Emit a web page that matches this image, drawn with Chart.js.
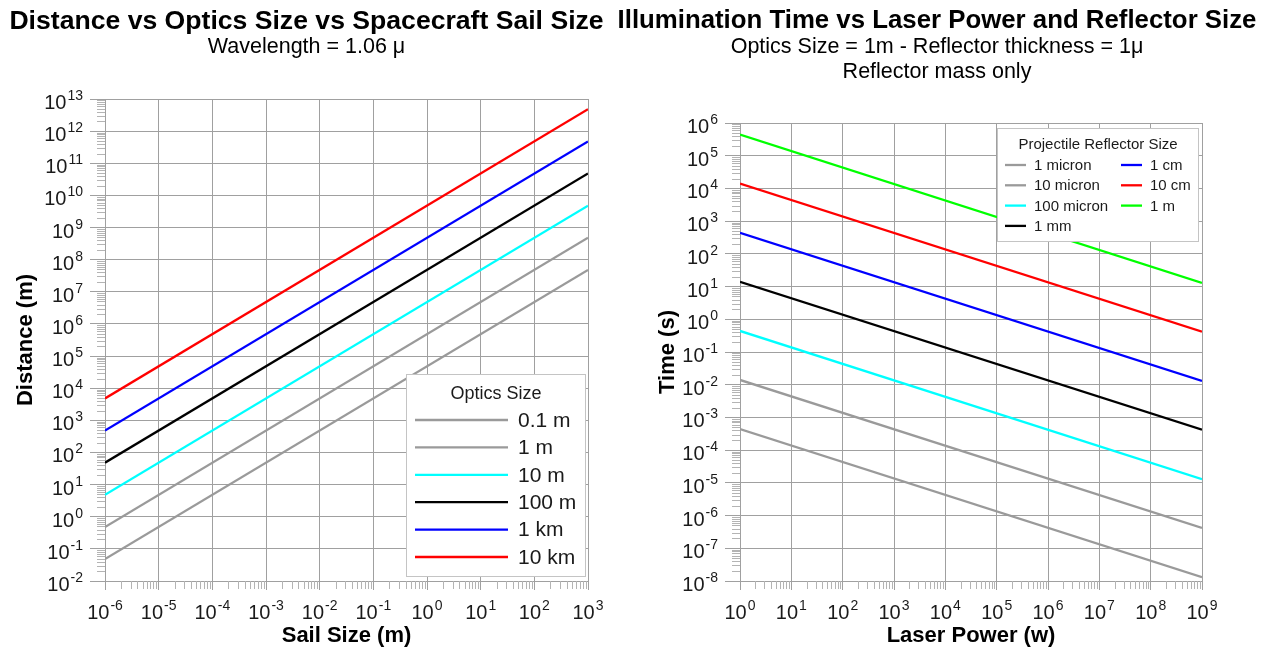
<!DOCTYPE html>
<html>
<head>
<meta charset="utf-8">
<script src="https://cdn.jsdelivr.net/npm/chart.js@4.4.0/dist/chart.umd.min.js"></script>
<style>
  body { margin: 0; background: #fff; }
  #wrap { position: relative; width: 1261px; height: 650px; }
  canvas { position: absolute; top: 0; }
  #left { left: 0; }
  #right { left: 613px; }
</style>
</head>
<body>
<div id="wrap">
  <canvas id="left" width="613" height="650"></canvas>
  <canvas id="right" width="648" height="650"></canvas>
</div>
<script>
const FONT = "'Liberation Sans', Arial, sans-serif";
Chart.defaults.font.family = FONT;

/** ---------------- Left chart data: distance vs sail size ---------------- **/
const sailSize = [1e-6, 1e3];
const optics01m = [4.8e-2, 4.8e7];
const optics1m = [4.8e-1, 4.8e8];
const optics10m = [4.8, 4.8e9];
const optics100m = [4.8e1, 4.8e10];
const optics1km = [4.8e2, 4.8e11];
const optics10km = [4.8e3, 4.8e12];
const opticsLabels = ['0.1 m', '1 m', '10 m', '100 m', '1 km', '10 km'];
const opticsColors = ['#9a9a9a', '#9a9a9a', '#00ffff', '#000000', '#0000ff', '#ff0000'];
const sailExp = [-6, -5, -4, -3, -2, -1, 0, 1, 2, 3];
const distExp = [-2, -1, 0, 1, 2, 3, 4, 5, 6, 7, 8, 9, 10, 11, 12, 13];

/** ---------------- Right chart data: illumination time vs laser power ---------------- **/
const laserPower = [1, 1e9];
const refl1um = [4.4e-4, 1.3e-8];
const refl10um = [1.4e-2, 4.2e-7];
const refl100um = [4.4e-1, 1.3e-5];
const refl1mm = [1.4e1, 4.2e-4];
const refl1cm = [4.4e2, 1.3e-2];
const refl10cm = [1.4e4, 4.2e-1];
const refl1m = [4.4e5, 1.3e1];
const reflLabels = ['1 micron', '10 micron', '100 micron', '1 mm', '1 cm', '10 cm', '1 m'];
const reflColors = ['#9a9a9a', '#9a9a9a', '#00ffff', '#000000', '#0000ff', '#ff0000', '#00ff00'];
const powerExp = [0, 1, 2, 3, 4, 5, 6, 7, 8, 9];
const timeExp = [-8, -7, -6, -5, -4, -3, -2, -1, 0, 1, 2, 3, 4, 5, 6];

const GRID = '#a0a0a0';

/** ---------------- "10^n" tick labels + minor ticks ---------------- **/
function drawPow(ctx, x, y, exp, align) {
  const base = '10', sup = String(exp);
  ctx.font = '20px ' + FONT;
  const wb = ctx.measureText(base).width;
  ctx.font = '14px ' + FONT;
  const ws = ctx.measureText(sup).width + 1;
  const x0 = align === 'right' ? x - wb - ws : x - (wb + ws) / 2;
  ctx.fillStyle = '#1a1a1a';
  ctx.textAlign = 'left';
  ctx.textBaseline = 'alphabetic';
  ctx.font = '20px ' + FONT;
  ctx.fillText(base, x0, y);
  ctx.font = '14px ' + FONT;
  ctx.fillText(sup, x0 + wb + 1, y - 9);
}

const logAxes = {
  id: 'logAxes',
  afterDraw(chart, args, o) {
    const { ctx, chartArea: ca } = chart;
    const x = chart.scales.x, y = chart.scales.y;
    ctx.save();
    ctx.strokeStyle = '#b4b4b4';
    ctx.lineWidth = 1;
    ctx.beginPath();
    for (let i = 0; i < o.yExp.length - 1; i++) {
      for (let m = 2; m < 10; m++) {
        const py = Math.round(y.getPixelForValue(m * 10 ** o.yExp[i])) + 0.5;
        ctx.moveTo(ca.left - 8, py);
        ctx.lineTo(ca.left, py);
      }
    }
    for (let i = 0; i < o.xExp.length - 1; i++) {
      for (let m = 2; m < 10; m++) {
        const px = Math.round(x.getPixelForValue(m * 10 ** o.xExp[i])) + 0.5;
        ctx.moveTo(px, ca.bottom);
        ctx.lineTo(px, ca.bottom + 8);
      }
    }
    ctx.stroke();
    o.yExp.forEach(e => drawPow(ctx, ca.left - 22, y.getPixelForValue(10 ** e) + 10, e, 'right'));
    o.xExp.forEach(e => drawPow(ctx, x.getPixelForValue(10 ** e), ca.bottom + 38, e, 'center'));
    ctx.restore();
  }
};

/** ---------------- Boxed legend inside the plot ---------------- **/
const boxLegend = {
  id: 'boxLegend',
  afterDatasetsDraw(chart, args, o) {
    const { ctx, chartArea: ca } = chart;
    const left = ca.right - o.right - o.width;
    const top = o.top != null ? ca.top + o.top : ca.bottom - o.bottom - o.height;
    ctx.save();
    ctx.fillStyle = '#fff';
    ctx.fillRect(left, top, o.width, o.height);
    ctx.strokeStyle = '#c4c4c4';
    ctx.lineWidth = 1;
    ctx.strokeRect(Math.round(left) + 0.5, Math.round(top) + 0.5, o.width - 1, o.height - 1);
    ctx.fillStyle = '#1a1a1a';
    ctx.textBaseline = 'middle';
    ctx.textAlign = 'center';
    ctx.font = o.titleFont;
    ctx.fillText(o.title, left + o.width / 2, top + o.titleY);
    ctx.textAlign = 'left';
    ctx.font = o.itemFont;
    chart.data.datasets.forEach((ds, i) => {
      const col = Math.floor(i / o.rows), row = i % o.rows;
      const cx = left + o.colX[col], cy = top + o.rowY + row * o.rowStep;
      ctx.strokeStyle = ds.borderColor;
      ctx.lineWidth = ds.borderWidth;
      ctx.beginPath();
      ctx.moveTo(cx, cy);
      ctx.lineTo(cx + o.lineLen, cy);
      ctx.stroke();
      ctx.fillText(ds.label, cx + o.lineLen + o.gap, cy + 1);
    });
    ctx.restore();
  }
};

function logAxis(exps, fitFn, tickLength, title, titlePad) {
  return {
    type: 'logarithmic',
    min: 10 ** exps[0],
    max: 10 ** exps[exps.length - 1],
    afterBuildTicks: a => { a.ticks = exps.map(e => ({ value: 10 ** e })); },
    afterFit: fitFn,
    ticks: { display: false },
    grid: { color: GRID, tickColor: GRID, lineWidth: 1, tickLength: tickLength },
    border: { display: true, color: GRID },
    title: { display: true, text: title, color: '#000', font: { size: 22, weight: 'bold' }, padding: titlePad }
  };
}

// empty right-hand axis, only reserves space so the titles stay centred on the canvas
function spacer(w) {
  return {
    type: 'linear', position: 'right', display: true,
    afterFit: s => { s.width = w; },
    ticks: { display: false }, grid: { display: false }, border: { display: false }
  };
}

function makeChart(id, xs, series, labels, colors, opt) {
  return new Chart(document.getElementById(id), {
    type: 'line',
    data: {
      datasets: series.map((s, i) => ({
        label: labels[i],
        data: s.map((v, j) => ({ x: xs[j], y: v })),
        borderColor: colors[i],
        borderWidth: 2.3,
        pointRadius: 0,
        fill: false,
        tension: 0
      }))
    },
    options: {
      responsive: false,
      animation: false,
      devicePixelRatio: 1,
      layout: { padding: 0 },
      scales: {
        x: logAxis(opt.xExp, s => { s.height = 69; }, 9, opt.xTitle, { top: 0, bottom: 1 }),
        y: logAxis(opt.yExp, s => { s.width = opt.yWidth; }, 15, opt.yTitle, { top: opt.yTitlePad, bottom: 0 }),
        yr: spacer(opt.rightPad)
      },
      plugins: {
        legend: { display: false },
        tooltip: { enabled: false },
        title: {
          display: true, text: opt.title, color: '#000',
          font: { size: opt.titleSize, weight: 'bold', lineHeight: 1 },
          padding: { top: 8, bottom: 0 }
        },
        subtitle: {
          display: true, text: opt.subtitle, color: '#000',
          font: { size: 21.5, lineHeight: 1.2 },
          padding: { top: 0, bottom: opt.subPad }
        },
        logAxes: { xExp: opt.xExp, yExp: opt.yExp },
        boxLegend: opt.legend
      }
    },
    plugins: [logAxes, boxLegend]
  });
}

makeChart('left', sailSize,
  [optics01m, optics1m, optics10m, optics100m, optics1km, optics10km],
  opticsLabels, opticsColors, {
    title: 'Distance vs Optics Size vs Spacecraft Sail Size',
    titleSize: 26.6,
    subtitle: 'Wavelength = 1.06 \u03bc',
    subPad: 99 - 8 - 26.6 - 25.8,
    xExp: sailExp, yExp: distExp,
    xTitle: 'Sail Size (m)', yTitle: 'Distance (m)',
    yWidth: 105, yTitlePad: 13, rightPad: 25,
    legend: {
      title: 'Optics Size', titleFont: '18px ' + FONT, itemFont: '21px ' + FONT,
      width: 180, height: 203, right: 2, bottom: 4,
      titleY: 20, rowY: 46, rowStep: 27.4, rows: 6, colX: [9], lineLen: 93, gap: 10
    }
  });

makeChart('right', laserPower,
  [refl1um, refl10um, refl100um, refl1mm, refl1cm, refl10cm, refl1m],
  reflLabels, reflColors, {
    title: 'Illumination Time vs Laser Power and Reflector Size',
    titleSize: 25.8,
    subtitle: ['Optics Size = 1m - Reflector thickness = 1\u03bc', 'Reflector mass only'],
    subPad: 123 - 8 - 25.8 - 2 * 25.8,
    xExp: powerExp, yExp: timeExp,
    xTitle: 'Laser Power (w)', yTitle: 'Time (s)',
    yWidth: 127, yTitlePad: 42, rightPad: 59,
    legend: {
      title: 'Projectile Reflector Size', titleFont: '15px ' + FONT, itemFont: '15px ' + FONT,
      width: 202, height: 114, right: 3, top: 5,
      titleY: 17, rowY: 37, rowStep: 20.3, rows: 4, colX: [8, 124], lineLen: 21, gap: 8
    }
  });
</script>
</body>
</html>
